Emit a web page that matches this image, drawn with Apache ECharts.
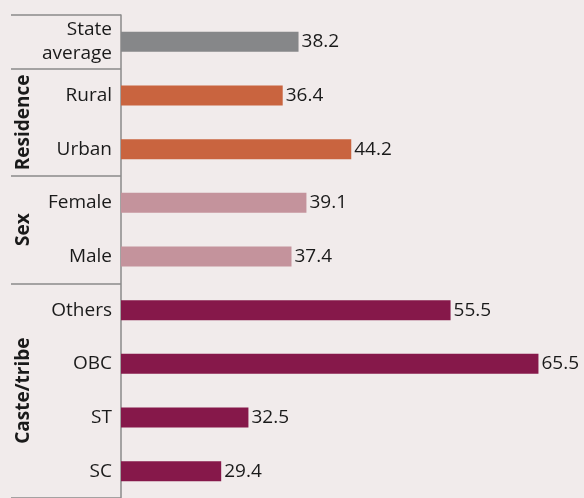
<!DOCTYPE html>
<html>
<head>
<meta charset="utf-8">
<script src="https://cdn.jsdelivr.net/npm/echarts@6/dist/echarts.min.js"></script>
<style>
  html, body { margin: 0; padding: 0; background: #f1ebeb; }
  #chart { width: 584px; height: 498px; }
</style>
</head>
<body>
<div id="chart"></div>
<script>
// rows from top to bottom
const categories = ['State\naverage', 'Rural', 'Urban', 'Female', 'Male', 'Others', 'OBC', 'ST', 'SC'];
const values = [38.2, 36.4, 44.2, 39.1, 37.4, 55.5, 65.5, 32.5, 29.4];
const rowColors = ['#868789', '#c9643f', '#c9643f', '#c4939c', '#c4939c', '#86184a', '#86184a', '#86184a', '#86184a'];
// group name, first row, last row
const groups = [
  { name: 'Residence', from: 1, to: 2 },
  { name: 'Sex', from: 3, to: 4 },
  { name: 'Caste/tribe', from: 5, to: 8 }
];
// rows where a separator line starts above
const groupStarts = [0, 1, 3, 5];

const font = '"Open Sans", sans-serif';
const chart = echarts.init(document.getElementById('chart'));

let option = {
  backgroundColor: '#f1ebeb',
  animation: false,
  grid: { left: 121, right: 6, top: 15, bottom: -3 },
  xAxis: {
    type: 'value',
    min: 18,
    max: 70,
    show: false
  },
  yAxis: {
    type: 'category',
    inverse: true,
    data: categories,
    axisLine: { lineStyle: { color: '#8a8a8a', width: 1.5 } },
    axisTick: {
      show: true,
      length: 110,
      lineStyle: { color: '#8a8a8a', width: 1.5 },
      interval: (i) => groupStarts.indexOf(i) >= 0
    },
    axisLabel: {
      color: '#1a1a1a',
      fontFamily: font,
      fontSize: 19,
      lineHeight: 24,
      margin: 9,
      align: 'right'
    }
  },
  series: [{
    type: 'bar',
    barWidth: 20,
    data: values.map((v, i) => ({ value: v, itemStyle: { color: rowColors[i] } })),
    label: {
      show: true,
      position: 'right',
      distance: 3,
      color: '#1a1a1a',
      fontFamily: font,
      fontSize: 19
    }
  }]
};
chart.setOption(option);

// vertical group titles placed at the middle of their rows
const groupText = groups.map(g => {
  const y1 = chart.convertToPixel({ yAxisIndex: 0 }, g.from);
  const y2 = chart.convertToPixel({ yAxisIndex: 0 }, g.to);
  return {
    type: 'text',
    x: 24,
    y: (y1 + y2) / 2,
    rotation: Math.PI / 2,
    style: {
      text: g.name,
      fill: '#1a1a1a',
      font: 'bold 19px ' + font,
      textAlign: 'center',
      textVerticalAlign: 'middle'
    }
  };
});
chart.setOption({ graphic: groupText });
</script>
</body>
</html>
